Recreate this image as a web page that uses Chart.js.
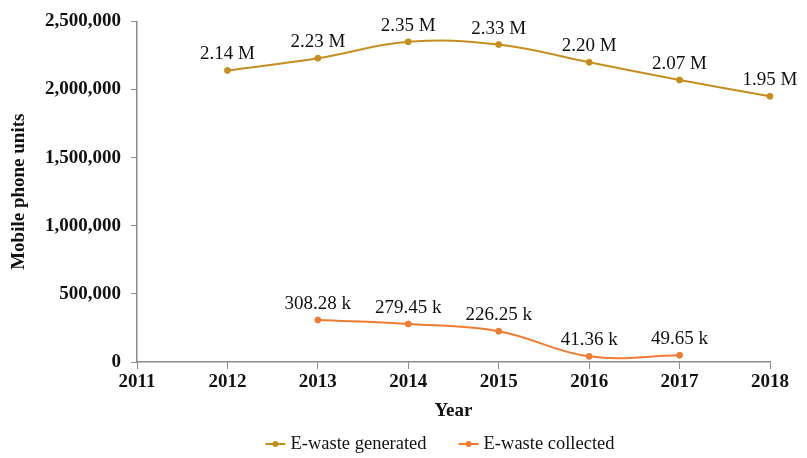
<!DOCTYPE html>
<html>
<head>
<meta charset="utf-8">
<script src="https://cdn.jsdelivr.net/npm/chart.js@4.4.1/dist/chart.umd.min.js"></script>
<style>
  html, body { margin: 0; padding: 0; background: #fff; }
  #wrap { width: 807px; height: 458px; position: relative; }
</style>
</head>
<body>
<div id="wrap"><canvas id="chart"></canvas></div>
<script>
  // data
  const genYears = [2012, 2013, 2014, 2015, 2016, 2017, 2018];
  const genValues = [2140000, 2230000, 2350000, 2330000, 2200000, 2070000, 1950000];
  const colYears = [2013, 2014, 2015, 2016, 2017];
  const colValues = [308280, 279450, 226250, 41360, 49650];
  const yTicks = [0, 500000, 1000000, 1500000, 2000000, 2500000];
  const seriesNames = ['E-waste generated', 'E-waste collected'];

  const SERIF = '"Liberation Serif", "Times New Roman", serif';
  const GOLD = '#C68E1F';
  const ORANGE = '#EE7D31';
  const AXIS = '#8a8a8a';

  function fmtShort(v){
    return v >= 1e6 ? (v / 1e6).toFixed(2) + ' M' : (v / 1e3).toFixed(2) + ' k';
  }

  // value labels above each point
  const pointLabels = {
    id: 'pointLabels',
    afterDatasetsDraw(chart){
      const ctx = chart.ctx;
      ctx.save();
      ctx.font = '19px ' + SERIF;
      ctx.fillStyle = '#111';
      ctx.textAlign = 'center';
      ctx.textBaseline = 'alphabetic';
      chart.data.datasets.forEach((ds, i) => {
        chart.getDatasetMeta(i).data.forEach((pt, j) => {
          ctx.fillText(fmtShort(ds.data[j].y), pt.x, pt.y - 11);
        });
      });
      ctx.restore();
    }
  };

  // legend drawn at the bottom: line + dot marker
  const bottomLegend = {
    id: 'bottomLegend',
    afterDraw(chart){
      const ctx = chart.ctx;
      ctx.save();
      ctx.font = '18.5px ' + SERIF;
      const items = chart.data.datasets.map(ds => ({ label: ds.label, color: ds.borderColor, w: ctx.measureText(ds.label).width }));
      const mark = 20, gap = 5, space = 32;
      let total = 0;
      items.forEach((it, i) => { total += mark + gap + it.w + (i ? space : 0); });
      let x = 440 - total / 2;
      const y = 444;
      items.forEach((it, i) => {
        if (i) x += space;
        ctx.strokeStyle = it.color;
        ctx.lineWidth = 2;
        ctx.beginPath(); ctx.moveTo(x, y); ctx.lineTo(x + mark, y); ctx.stroke();
        ctx.fillStyle = it.color;
        ctx.beginPath(); ctx.arc(x + mark / 2, y, 3, 0, Math.PI * 2); ctx.fill();
        ctx.fillStyle = '#111';
        ctx.textBaseline = 'middle';
        ctx.fillText(it.label, x + mark + gap, y);
        x += mark + gap + it.w;
      });
      ctx.restore();
    }
  };

  const tickFont = { family: SERIF, size: 19, weight: 'bold' };

  new Chart(document.getElementById('chart'), {
    type: 'line',
    data: {
      datasets: [
        {
          label: seriesNames[0],
          data: genYears.map((x, i) => ({ x: x, y: genValues[i] })),
          borderColor: GOLD, backgroundColor: GOLD,
          borderWidth: 2, pointRadius: 3, pointBorderWidth: 1, tension: 0.4, clip: false
        },
        {
          label: seriesNames[1],
          data: colYears.map((x, i) => ({ x: x, y: colValues[i] })),
          borderColor: ORANGE, backgroundColor: ORANGE,
          borderWidth: 2, pointRadius: 3, pointBorderWidth: 1, tension: 0.4, clip: false
        }
      ]
    },
    options: {
      responsive: true,
      maintainAspectRatio: false,
      animation: false,
      layout: { padding: { left: 0, right: 37, top: 16, bottom: 32 } },
      plugins: {
        legend: { display: false },
        tooltip: { enabled: false }
      },
      scales: {
        x: {
          type: 'linear', min: 2011, max: 2018,
          border: { color: AXIS, width: 1.5 },
          grid: { drawOnChartArea: false, color: AXIS, tickLength: 7 },
          ticks: { stepSize: 1, color: '#111', font: tickFont, padding: 2, callback: v => String(v) },
          title: { display: true, text: 'Year', color: '#111', font: tickFont, padding: { top: 4 } },
          afterFit: s => { s.height = 64; }
        },
        y: {
          min: 0, max: 2500000,
          border: { color: AXIS, width: 1.5 },
          grid: { drawOnChartArea: false, color: AXIS, tickLength: 6 },
          afterBuildTicks: s => { s.ticks = yTicks.map(v => ({ value: v })); },
          ticks: { color: '#111', font: tickFont, padding: 10, callback: v => v.toLocaleString('en-US') },
          title: { display: true, text: 'Mobile phone units', color: '#111', font: tickFont, padding: { top: 8, bottom: 0 } },
          afterFit: s => { s.width = 137; }
        }
      }
    },
    plugins: [pointLabels, bottomLegend]
  });
</script>
</body>
</html>
